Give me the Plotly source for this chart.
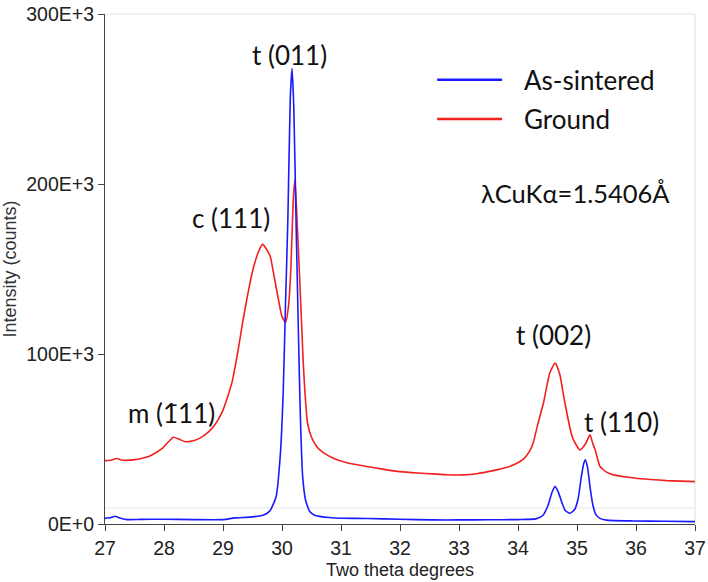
import plotly.graph_objects as go

# ---- data (two-theta in degrees, intensity in counts) ----
sintered_x = [27.0, 27.1, 27.17, 27.25, 27.37, 27.6, 28.0, 28.5, 29.0, 29.2, 29.5, 29.7, 29.8, 29.9,
              29.97, 30.02, 30.06, 30.10, 30.14, 30.17, 30.20, 30.24, 30.28, 30.31, 30.35, 30.40,
              30.47, 30.55, 30.64, 30.8, 31.0, 31.44, 32.0, 32.56, 33.0, 33.5, 34.0, 34.3, 34.42,
              34.51, 34.58, 34.63, 34.68, 34.74, 34.8, 34.88, 34.96, 35.02, 35.07, 35.11, 35.14,
              35.18, 35.22, 35.27, 35.32, 35.39, 35.5, 35.95, 36.5, 37.0]
sintered_y = [3300, 3800, 4600, 3500, 2600, 2700, 2800, 2600, 2600, 3600, 4200, 5500, 8000, 16000,
              40000, 77000, 130000, 180000, 250000, 268000, 245000, 175000, 110000, 65000, 28000, 14000,
              7300, 5200, 4500, 3800, 3400, 3200, 2800, 2400, 2400, 2500, 2600, 3000, 5000,
              11000, 19000, 22000, 19000, 13000, 8000, 6300, 8500, 15000, 27000, 35000, 37700,
              33000, 22000, 11000, 5500, 3300, 2300, 1800, 1600, 1400]

ground_x = [27.0, 27.1, 27.2, 27.28, 27.48, 27.65, 27.76, 27.9, 27.98, 28.08, 28.16, 28.25, 28.35,
            28.45, 28.61, 28.75, 28.84, 28.92, 29.0, 29.08, 29.15, 29.25, 29.34, 29.43, 29.51, 29.6,
            29.67, 29.74, 29.80, 29.87, 29.94, 30.0, 30.06, 30.11, 30.15, 30.19, 30.22, 30.26, 30.31,
            30.36, 30.39, 30.43, 30.5, 30.59, 30.7, 30.87, 31.1, 31.44, 31.7, 32.0, 32.3, 32.56, 32.8,
            33.07, 33.3, 33.58, 33.8, 33.98, 34.1, 34.2, 34.26, 34.33, 34.43, 34.54, 34.63, 34.71,
            34.77, 34.83, 34.89, 34.94, 35.05, 35.15, 35.22, 35.27, 35.31, 35.35, 35.39, 35.5, 35.62,
            35.8, 36.0, 36.25, 36.52, 36.75, 37.0]
ground_y = [37300, 37500, 38500, 37600, 37700, 38800, 40000, 42800, 44800, 48500, 51000, 50000, 48500,
            48600, 50500, 54000, 57300, 61500, 67000, 75000, 83000, 101000, 120000, 137000, 150000, 160000,
            164500, 161500, 157500, 145000, 132000, 122000, 118600, 128000, 150000, 190000, 202700, 175000, 136000,
            95000, 77000, 60000, 51000, 45500, 42000, 38700, 36000, 33800, 32300, 30800, 30000, 29500, 29000,
            28900, 29600, 31400, 33200, 35700, 38500, 43000, 48000, 58000, 71000, 89000, 94700, 87800,
            76000, 65000, 55000, 49500, 43600, 47500, 52400, 47000, 43600, 38000, 33800, 30500, 28900,
            27800, 26900, 26200, 25500, 25200, 24900]

x_ticks = [27, 28, 29, 30, 31, 32, 33, 34, 35, 36, 37]
y_ticks = [0, 100000, 200000, 300000]
y_tick_text = ["0E+0", "100E+3", "200E+3", "300E+3"]

series_names = ["As-sintered", "Ground"]
series_colors = ["#1a1aff", "#f0211e"]

peak_labels = ["t (011)", "c (111)", "m (1\u030411)", "t (002)", "t (110)"]
peak_label_x = [30.13, 29.14, 28.12, 34.61, 35.76]
peak_label_y = [276000, 180000, 65500, 111000, 60000]

wavelength_text = "\u03bbCuK\u03b1=1.5406\u00c5"

ANN_FONT = dict(family="Lato, Carlito, sans-serif", size=26, color="#111111")

fig = go.Figure()
fig.add_trace(go.Scatter(x=ground_x, y=ground_y, mode="lines", name=series_names[1],
                         line=dict(color=series_colors[1], width=1.6, shape="spline", smoothing=0.5)))
fig.add_trace(go.Scatter(x=sintered_x, y=sintered_y, mode="lines", name=series_names[0],
                         line=dict(color=series_colors[0], width=1.6, shape="spline", smoothing=0.5)))

for txt, xx, yy in zip(peak_labels, peak_label_x, peak_label_y):
    fig.add_annotation(x=xx, y=yy, text=txt, showarrow=False, font=ANN_FONT,
                       xanchor="center", yanchor="middle")

# manual legend
legend_y = [0.871, 0.794]
for name, col, ly in zip(series_names, series_colors, legend_y):
    fig.add_shape(type="line", xref="paper", yref="paper", x0=0.563, x1=0.673, y0=ly, y1=ly,
                  line=dict(color=col, width=2.5))
    fig.add_annotation(xref="paper", yref="paper", x=0.706, y=ly, text=name, showarrow=False,
                       font=ANN_FONT, xanchor="left", yanchor="middle")

fig.add_annotation(xref="paper", yref="paper", x=0.634, y=0.649, text=wavelength_text,
                   showarrow=False, font=dict(ANN_FONT, size=25.5), xanchor="left", yanchor="middle")

# light frame lines (top, right) and faint horizontal line near baseline
fig.add_shape(type="line", xref="paper", yref="paper", x0=0, x1=1, y0=1, y1=1,
              line=dict(color="#e4e4e4", width=1.2), layer="below")
fig.add_shape(type="line", xref="paper", yref="paper", x0=1, x1=1, y0=0, y1=1,
              line=dict(color="#e4e4e4", width=1.2), layer="below")
fig.add_shape(type="line", xref="paper", yref="y", x0=0, x1=1, y0=9500, y1=9500,
              line=dict(color="#ececec", width=1.2), layer="below")

fig.update_layout(
    width=708, height=582,
    margin=dict(l=105, r=13, t=14, b=58, autoexpand=False),
    paper_bgcolor="white", plot_bgcolor="white",
    showlegend=False,
    font=dict(family="Liberation Sans, Arial, sans-serif", color="#222222"),
)
fig.update_xaxes(range=[27, 37], tickvals=x_ticks, ticks="outside", ticklen=6, tickwidth=1,
                 tickcolor="#444444", showline=True, linecolor="#444444", linewidth=1.2,
                 showgrid=False, zeroline=False, automargin=False, ticklabeloverflow="allow",
                 tickfont=dict(size=19.5, color="#222222"),
                 title=dict(text="Two theta degrees", font=dict(size=18, color="#222222"), standoff=5))
fig.update_yaxes(range=[0, 300000], tickvals=y_ticks, ticktext=y_tick_text, ticks="outside",
                 ticklen=6, tickwidth=1, tickcolor="#444444", showline=True, linecolor="#444444",
                 linewidth=1.2, showgrid=False, zeroline=False, automargin=False, ticklabeloverflow="allow",
                 tickfont=dict(size=19.5, color="#222222"),
                 title=dict(text="Intensity (counts)", font=dict(size=18, color="#333333"), standoff=6))

# remove the default 8px page margin so the figure sits at the window's top-left corner
fig.write_html("out.html", config={"displayModeBar": False},
               post_script="document.body.style.margin='0px';")
